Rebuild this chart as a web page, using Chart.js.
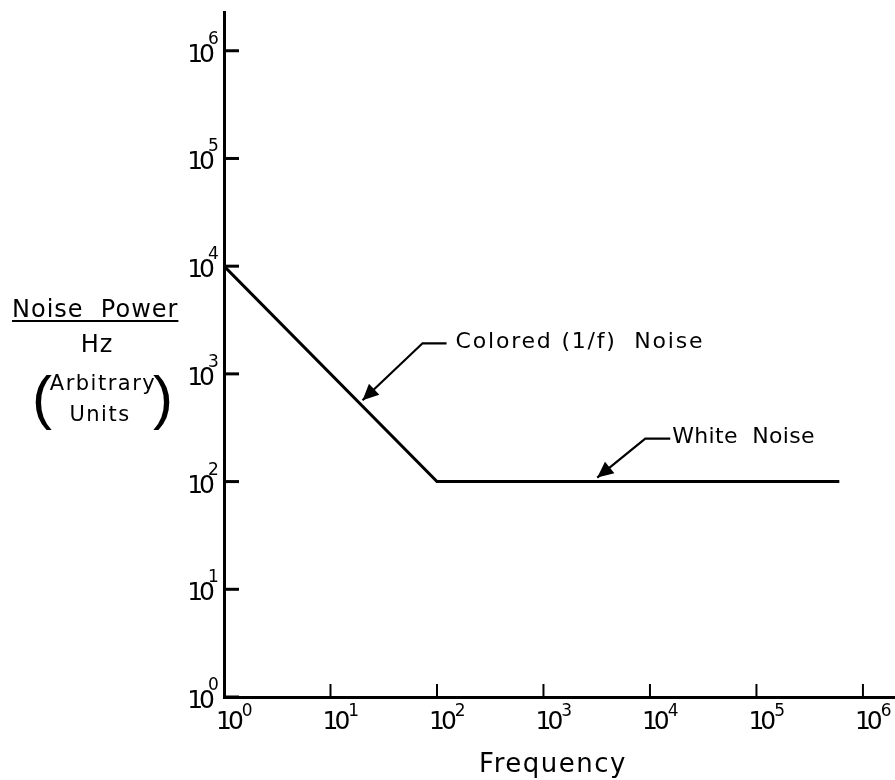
<!DOCTYPE html>
<html>
<head>
<meta charset="utf-8">
<script src="https://cdn.jsdelivr.net/npm/chart.js@4/dist/chart.umd.min.js"></script>
<style>
  html, body { margin: 0; padding: 0; background: #fff; }
  #wrap { width: 895px; height: 780px; }
</style>
</head>
<body>
<div id="wrap"><canvas id="c" width="895" height="780"></canvas></div>
<script>
// ---- data ----
const frequency = [1, 100, 600000];
const noisePower = [10000, 100, 100];
const xTickExponents = [0, 1, 2, 3, 4, 5, 6];
const yTickExponents = [0, 1, 2, 3, 4, 5, 6];
const xTitle = 'Frequency';
const yTitleLines = ['Noise  Power', 'Hz', 'Arbitrary', 'Units'];
const annotationTexts = ['Colored (1/f)  Noise', 'White  Noise'];
const annotationX = [20, 3200];
const annotationY = [500, 100];

// leader geometry (pixel offsets from the data anchor)
const leaderStyle = [
  { tip: [0, -6], elbow: [60, -63], end: [84, -63], text: [93, -64], spacing: '1.8px' },
  { tip: [0, -4], elbow: [48, -43], end: [73, -43], text: [75, -44], spacing: '0.3px' }
];

const FONT = '"DejaVu Sans", "Liberation Sans", sans-serif';

const drawPlugin = {
  id: 'drawExtras',
  afterDraw(chart) {
    const ctx = chart.ctx;
    const xs = chart.scales.x, ys = chart.scales.y;
    const area = chart.chartArea;
    ctx.save();
    ctx.fillStyle = '#000';
    ctx.strokeStyle = '#000';

    // x ticks (inward) and labels
    xTickExponents.forEach(e => {
      const px = xs.getPixelForValue(Math.pow(10, e));
      ctx.lineWidth = 2;
      ctx.beginPath();
      ctx.moveTo(px, area.bottom);
      ctx.lineTo(px, area.bottom - 13);
      ctx.stroke();
      ctx.textBaseline = 'alphabetic';
      ctx.textAlign = 'left';
      ctx.font = '25px ' + FONT;
      ctx.letterSpacing = '-4px';
      ctx.fillText('10', px - 8, area.bottom + 32);
      const w = ctx.measureText('10').width;
      ctx.letterSpacing = '0px';
      ctx.font = '17px ' + FONT;
      ctx.fillText(String(e), px - 8 + w + 2, area.bottom + 19);
    });

    // y ticks (inward) and labels
    yTickExponents.forEach(e => {
      const py = ys.getPixelForValue(Math.pow(10, e));
      ctx.lineWidth = 3;
      ctx.beginPath();
      ctx.moveTo(area.left, py);
      ctx.lineTo(area.left + 15, py);
      ctx.stroke();
      ctx.textBaseline = 'alphabetic';
      ctx.textAlign = 'right';
      ctx.font = '25px ' + FONT;
      ctx.letterSpacing = '-4px';
      ctx.fillText('10', area.left - 13, py + 11);
      ctx.letterSpacing = '0px';
      ctx.textAlign = 'left';
      ctx.font = '17px ' + FONT;
      ctx.fillText(String(e), area.left - 16, py - 7);
    });

    // x title
    ctx.textAlign = 'center';
    ctx.textBaseline = 'alphabetic';
    ctx.font = '26px ' + FONT;
    ctx.letterSpacing = '1.5px';
    ctx.fillText(xTitle, 553, 772);

    // y title
    ctx.textAlign = 'left';
    ctx.font = '24px ' + FONT;
    ctx.letterSpacing = '1px';
    ctx.fillText(yTitleLines[0], 12, 317);
    const tw = ctx.measureText(yTitleLines[0]).width;
    ctx.lineWidth = 2;
    ctx.beginPath();
    ctx.moveTo(12, 321);
    ctx.lineTo(12 + tw, 321);
    ctx.stroke();
    ctx.textAlign = 'center';
    ctx.fillText(yTitleLines[1], 97, 352);
    ctx.font = '21px ' + FONT;
    ctx.letterSpacing = '1.5px';
    ctx.fillText(yTitleLines[2], 103, 390);
    ctx.fillText(yTitleLines[3], 100, 421);
    ctx.letterSpacing = '0px';
    ctx.font = '60px "Liberation Sans", sans-serif';
    ctx.fillText('(', 42, 418);
    ctx.fillText(')', 163, 418);

    // annotations
    annotationTexts.forEach((t, i) => {
      const ax = xs.getPixelForValue(annotationX[i]);
      const ay = ys.getPixelForValue(annotationY[i]);
      const st = leaderStyle[i];
      const tip = [ax + st.tip[0], ay + st.tip[1]];
      const elb = [ax + st.elbow[0], ay + st.elbow[1]];
      const end = [ax + st.end[0], ay + st.end[1]];
      ctx.lineWidth = 2.2;
      ctx.beginPath();
      ctx.moveTo(tip[0], tip[1]);
      ctx.lineTo(elb[0], elb[1]);
      ctx.lineTo(end[0], end[1]);
      ctx.stroke();
      // arrowhead
      const dx = elb[0] - tip[0], dy = elb[1] - tip[1];
      const len = Math.hypot(dx, dy);
      const ux = dx / len, uy = dy / len;
      const L = 16, W = 7.5;
      ctx.beginPath();
      ctx.moveTo(tip[0], tip[1]);
      ctx.lineTo(tip[0] + ux * L - uy * W, tip[1] + uy * L + ux * W);
      ctx.lineTo(tip[0] + ux * L + uy * W, tip[1] + uy * L - ux * W);
      ctx.closePath();
      ctx.fill();
      ctx.font = '22px ' + FONT;
      ctx.letterSpacing = st.spacing;
      ctx.textAlign = 'left';
      ctx.textBaseline = 'middle';
      ctx.fillText(t, ax + st.text[0], ay + st.text[1]);
      ctx.letterSpacing = '0px';
    });
    ctx.restore();
  }
};

new Chart(document.getElementById('c'), {
  type: 'scatter',
  data: {
    datasets: [{
      data: frequency.map((f, i) => ({ x: f, y: noisePower[i] })),
      showLine: true,
      borderColor: '#000',
      borderWidth: 3,
      pointRadius: 0,
      tension: 0
    }]
  },
  options: {
    responsive: false,
    animation: false,
    devicePixelRatio: 1,
    layout: { padding: { left: 224, top: 12, right: 0, bottom: 83 } },
    plugins: { legend: { display: false }, tooltip: { enabled: false } },
    scales: {
      x: {
        type: 'logarithmic', min: 1, max: 2e6,
        grid: { display: false },
        border: { display: true, color: '#000', width: 3 },
        ticks: { display: false },
        afterFit(s) { s.height = 0; }
      },
      y: {
        type: 'logarithmic', min: 1, max: 2.29e6,
        grid: { display: false },
        border: { display: true, color: '#000', width: 3 },
        ticks: { display: false },
        afterFit(s) { s.width = 0; }
      }
    }
  },
  plugins: [drawPlugin]
});
</script>
</body>
</html>
